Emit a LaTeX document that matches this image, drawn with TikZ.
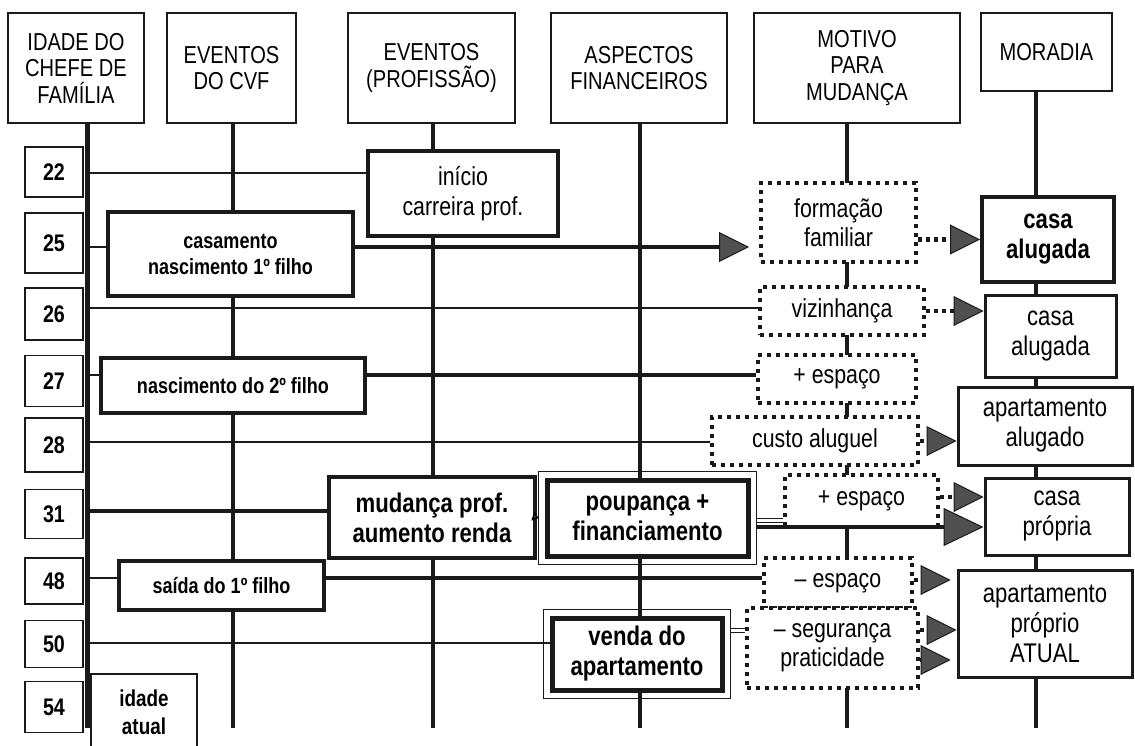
\documentclass[tikz,border=0pt]{standalone}
\usepackage{fontspec}
\setmainfont[FakeStretch=0.82]{Liberation Sans}
\usetikzlibrary{arrows.meta,calc,backgrounds}
\definecolor{ink}    {HTML}{1A1A1A}
\definecolor{tipgray}{HTML}{505050}
\tikzset{
  head/.style   ={draw=ink, fill=white, line width=1.2pt, align=center,
                  inner sep=0pt, font=\fontsize{24.5}{26.5}\selectfont},
  agebox/.style ={draw=ink, fill=white, line width=1.2pt, minimum width=58pt,
                  inner sep=0pt, font=\fontsize{24}{26}\selectfont\bfseries},
  ev/.style     ={draw=ink, fill=white, line width=4pt, align=center,
                  inner sep=0pt, font=\fontsize{26}{30}\selectfont},
  evs/.style    ={ev, font=\fontsize{22}{26}\selectfont\bfseries},
  evb/.style    ={ev, font=\fontsize{27}{30}\selectfont\bfseries},
  evd/.style    ={evb, line width=5pt},
  mot/.style    ={draw=ink, fill=white, line width=4pt,
                  dash pattern=on 4pt off 5pt, align=center, inner sep=0pt,
                  font=\fontsize{26}{29}\selectfont},
  mor/.style    ={draw=ink, fill=white, line width=3pt, align=center,
                  inner sep=0pt, font=\fontsize{27}{30}\selectfont},
  tl/.style     ={draw=ink, line width=4pt},
  row/.style    ={draw=ink, line width=1.3pt},
  rowk/.style   ={draw=ink, line width=4pt},
  arr/.style    ={-{Triangle[length=30pt,width=30pt,fill=tipgray,line width=1pt]}},
  bigarr/.style ={-{Triangle[length=40pt,width=38pt,fill=tipgray,line width=1pt]}},
  dotarr/.style ={rowk, arr, dash pattern=on 4pt off 4pt},
  bar/.style    ={draw=ink, line width=1pt, double=white, double distance=3pt},
}

\begin{document}
\begin{tikzpicture}[x=1pt,y=-1pt]
  \useasboundingbox (0,0) rectangle (1135,746);

  % column heads
  \node[head,minimum width=136pt,minimum height=110pt] (idh) at (76,68)
    {IDADE DO\\CHEFE DE\\FAMÍLIA};
  \node[head,minimum width=129pt,minimum height=110pt] (cvf) at (231.5,68)
    {EVENTOS\\DO CVF};
  \node[head,minimum width=167pt,minimum height=110pt] (prof) at (431.5,68)
    {EVENTOS\\(PROFISSÃO)};
  \node[head,minimum width=176pt,minimum height=110pt] (fin) at (639,68)
    {ASPECTOS\\FINANCEIROS};
  \node[head,minimum width=206pt,minimum height=110pt] (mot) at (857,68)
    {MOTIVO\\PARA\\MUDANÇA};
  \node[head,minimum width=131pt,minimum height=78pt] (mor) at (1046.5,52)
    {MORADIA};

  % ages
  \foreach \a/\yb/\h/\yr in {22/172/50/173, 25/243/60/247, 26/314/52/308,
      27/381/51/375, 28/445/54/442, 31/514/49/511, 48/581/46/578,
      50/644/47/643, 54/707/51/705}{
    \node[agebox,minimum height=\h pt] (a\a) at (54,\yb) {\a};
    \coordinate (r\a) at (87,\yr);
  }
  \foreach \h/\x in {idh/87, cvf/233, prof/433, fin/640, mot/847, mor/1036}
    \coordinate (\h-end) at (\x,728);

  % events
  \node[ev,minimum width=190pt,minimum height=85pt] (inicio) at (463,193.5)
    {início\\carreira prof.};
  \node[evs,minimum width=245pt,minimum height=84pt] (casam) at (230.5,254)
    {casamento\\nascimento 1º filho};
  \node[evs,minimum width=264pt,minimum height=55pt] (nasc) at (233,385.5)
    {nascimento do 2º filho};
  \node[evb,minimum width=206pt,minimum height=81pt] (mud) at (432,517.5)
    {mudança prof.\\aumento renda};
  \node[evs,minimum width=205pt,minimum height=49pt] (saida) at (221.5,585.5)
    {saída do 1º filho};
  \node[evd,minimum width=201pt,minimum height=76pt] (poup) at (647.5,518)
    {poupança +\\financiamento};
  \node[evd,minimum width=170pt,minimum height=72pt] (venda) at (637,654)
    {venda do\\apartamento};
  \node[agebox,align=center,minimum width=106pt,minimum height=76pt,
        font=\fontsize{23}{28}\selectfont\bfseries] (atualid) at (144,712)
    {idade\\atual};
  \draw[ink,line width=1.2pt] ([shift={(-6,-6)}]poup.north west)
    rectangle ([shift={(6,6)}]poup.south east);
  \draw[ink,line width=1.2pt] ([shift={(-6,-6)}]venda.north west)
    rectangle ([shift={(6,6)}]venda.south east);

  % reasons
  \node[mot,minimum width=155pt,minimum height=79pt] (form) at (838.5,222.5)
    {formação\\familiar};
  \node[mot,minimum width=164pt,minimum height=48pt] (viz) at (842,311)
    {vizinhança};
  \node[mot,minimum width=158pt,minimum height=48pt] (esp27) at (837,379)
    {+ espaço};
  \node[mot,minimum width=206pt,minimum height=48pt] (custo) at (815,441)
    {custo aluguel};
  \node[mot,minimum width=153pt,minimum height=52pt] (esp31) at (861.5,501)
    {+ espaço};
  \node[mot,minimum width=148pt,minimum height=50pt] (menos) at (838,583)
    {– espaço};
  \node[mot,minimum width=171pt,minimum height=80pt] (seg) at (832.5,648)
    {– segurança\\praticidade};

  % housing
  \node[mor,line width=4pt,font=\fontsize{27}{30}\selectfont\bfseries,
        minimum width=132pt,minimum height=85pt] (casa1) at (1048,239.5)
    {casa\\alugada};
  \node[mor,minimum width=131pt,minimum height=82pt] (casa2) at (1050.5,336)
    {casa\\alugada};
  \node[mor,minimum width=174pt,minimum height=78pt] (aptal) at (1045,426)
    {apartamento\\alugado};
  \node[mor,minimum width=144pt,minimum height=77pt] (casap) at (1057,516.5)
    {casa\\própria};
  \node[mor,minimum width=174pt,minimum height=107pt] (atual) at (1045,623.5)
    {apartamento\\próprio\\ATUAL};

  \begin{scope}[on background layer]
    \fill[white] (0,0) rectangle (1135,746);
    \foreach \h in {cvf,prof,fin,mot,mor}
      \draw[tl] (\h-end |- \h.south) -- (\h-end);
    \draw[tl,line width=5pt] (idh-end |- idh.south) -- (idh-end);

    \draw[row]  (r22) -- (r22 -| inicio.west);
    \draw[row]  (r25) -- (r25 -| casam.west);
    \draw[row]  (r26) -- (r26 -| viz.west);
    \draw[row]  (r27) -- (r27 -| nasc.west);
    \draw[rowk] (r27 -| nasc.east) -- (r27 -| esp27.west);
    \draw[row]  (r28) -- (r28 -| custo.west);
    \draw[rowk] (r31) -- (r31 -| mud.west);
    \draw[row]  (r48) -- (r48 -| saida.west);
    \draw[rowk] (r48 -| saida.east) -- (r48 -| menos.west);
    \draw[row]  (r50) -- (r50 -| venda.west);
  \end{scope}

  % connectors
  \draw[rowk,arr,shorten >=10pt] (r25 -| casam.east) -- (r25 -| form.west);
  \draw[-{Triangle[length=6pt,width=9pt,fill=tipgray]},line width=2pt]
    (mud.east) -- ([xshift=-6pt]poup.west);
  \draw[bar] ($(poup.east)+(6,2)$) -- ($(poup.east -| esp31.west)+(0,2)$);
  \draw[rowk,bigarr] ($(poup.east)+(6,9)$) -- ($(poup.east -| casap.west)+(0,9)$);
  \draw[bar] ($(venda.east)+(6,-24)$) -- ($(venda.east -| seg.west)+(0,-24)$);

  \draw[dotarr] (form.east |- casa1.west) -- (casa1.west);
  \draw[dotarr] (viz.east) -- (viz.east -| casa2.west);
  \draw[dotarr] (custo.east) -- (custo.east -| aptal.west);
  \draw[dotarr] ($(esp31.east)+(0,-4)$) -- ($(esp31.east -| casap.west)+(0,-4)$);
  \draw[dotarr,shorten >=6pt] ($(menos.east)+(0,-3)$)
    -- ($(menos.east -| atual.west)+(0,-3)$);
  \draw[dotarr] ($(seg.east)+(0,-18)$) -- ($(seg.east -| atual.west)+(0,-18)$);
  \draw[dotarr,shorten >=6pt] ($(seg.east)+(0,12)$)
    -- ($(seg.east -| atual.west)+(0,12)$);
\end{tikzpicture}
\end{document}
